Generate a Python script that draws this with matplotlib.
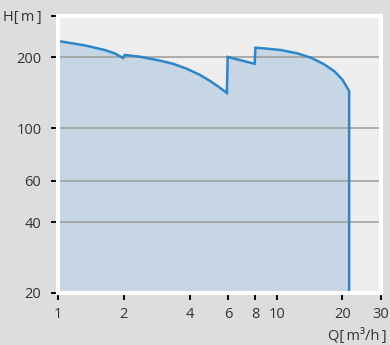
import numpy as np
import matplotlib.pyplot as plt

plt.rcParams['font.family'] = ['Open Sans', 'DejaVu Sans']

# pump curve H(Q), read along the envelope; repeated Q values give the jumps
flow = [1.0, 1.33, 1.64, 1.82, 1.985,
        2.02, 2.37, 2.92, 3.36, 3.86, 4.44, 4.93, 5.38, 5.92,
        5.97, 7.93,
        8.0, 8.79, 10.47, 12.47, 14.35, 16.5, 18.33, 20.0, 21.45]
head = [235, 225, 215, 208, 199,
        205, 201.5, 194, 188, 179.5, 169, 159.5, 151, 141.5,
        201, 188,
        220, 218.5, 215, 208, 199.5, 187, 175, 161, 144]
q_end = 21.45

x_ticks = [1, 2, 4, 6, 8, 10, 20, 30]
y_ticks = [20, 40, 60, 100, 200, 300]
y_labels = ['20', '40', '60', '100', '200', 'H[\u2009m\u2009]']
grid_levels = [40, 60, 100, 200]

line_col = '#2e86c8'
fill_col = '#c6d6e5'
text_col = '#333333'

fig = plt.figure(figsize=(3.9, 3.45), dpi=100, facecolor='#dddddd')
ax = fig.add_axes([58 / 390, 52 / 345, 323 / 390, 277 / 345])
ax.set_facecolor('#eeeeee')
ax.set_xscale('log')
ax.set_yscale('log')
ax.set_xlim(1, 30)
ax.set_ylim(20, 300)

ax.fill_between(flow, head, 20, color=fill_col, lw=0, zorder=1)
for lvl in grid_levels:
    ax.axhline(lvl, color='#a0a0a0', lw=1.2, zorder=2)
ax.plot(flow + [q_end], head + [20], color=line_col, lw=1.8, zorder=3,
        solid_joinstyle='miter')

for s in ax.spines.values():
    s.set_color('white')
    s.set_linewidth(3)
    s.set_zorder(4)

ax.minorticks_off()
ax.set_xticks(x_ticks)
ax.set_xticklabels([str(v) for v in x_ticks])
ax.set_yticks(y_ticks)
ax.set_yticklabels(y_labels)
ax.tick_params(length=5, width=1.4, color='black', labelcolor=text_col,
               labelsize=10.5)
ax.tick_params(axis='y', pad=7)
ax.tick_params(axis='x', pad=5)

fig.text(387 / 390, 1 - 336 / 345, 'Q[\u2009m\u00b3/h\u2009]', ha='right',
         va='center', color=text_col, fontsize=10.5)

fig.savefig('out.png', dpi=100, facecolor=fig.get_facecolor())
